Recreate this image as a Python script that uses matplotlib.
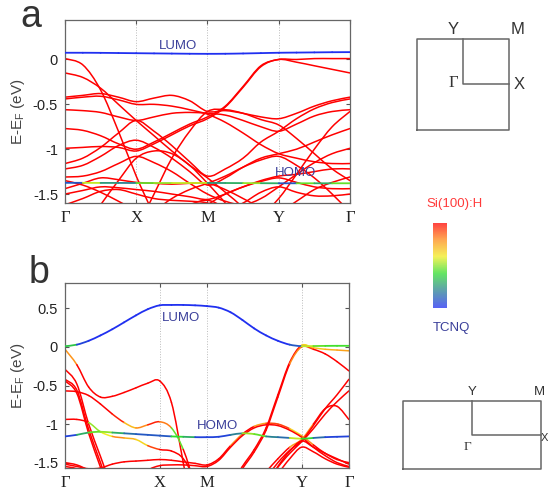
import matplotlib
matplotlib.use('Agg')
import matplotlib.pyplot as plt
import numpy as np
from matplotlib.path import Path
from matplotlib.patches import PathPatch
from matplotlib.colors import LinearSegmentedColormap

plt.rcParams['font.family'] = ['Liberation Sans', 'DejaVu Sans']
plt.rcParams['axes.unicode_minus'] = False

H = -2.3  # below the window

# ---------------- panel a: square cell ----------------
k_a = [0, 0.25, 0.5, 0.75, 1, 1.25, 1.5, 1.75, 2, 2.25, 2.5, 2.75, 3, 3.25, 3.5, 3.75, 4]
ticks_a = [0, 1, 2, 3, 4]
sym_labels = ['Γ', 'X', 'M', 'Y', 'Γ']

lumo_a = [0.075, 0.075, 0.074, 0.072, 0.070, 0.068, 0.066, 0.064, 0.063, 0.064, 0.067, 0.071, 0.075, 0.077, 0.079, 0.081, 0.082]
homo_a = [-1.375, -1.375, -1.376, -1.376, -1.377, -1.377, -1.377, -1.377, -1.376, -1.377, -1.378, -1.379, -1.380, -1.380, -1.380, -1.380, -1.380]
homo_a_w = [0.1, 0.55, 0.25, 0.2, 0.45, 0.5, 0.55, 0.55, 0.25, 0.3, 0.5, 0.3, 0.1, 0.45, 0.3, 0.45]

red_a = [
    [0.01, -0.06, -0.34, -0.80, -1.30, -1.75, H, H, H, H, H, H, H, H, H, H, H],
    [-0.15, -0.20, -0.32, -0.50, -0.68, -0.85, -1.02, -1.18, -1.32, -1.48, -1.65, -1.85, H, H, H, H, H],
    [-0.42, -0.40, -0.38, -0.42, -0.47, -0.43, -0.40, -0.46, -0.58, -0.57, -0.60, -0.64, -0.66, -0.60, -0.52, -0.46, -0.42],
    [-0.44, -0.42, -0.41, -0.45, -0.50, -0.50, -0.52, -0.56, -0.61, -0.70, -0.82, -0.95, -1.05, -1.10, -1.14, -1.16, -1.16],
    [-0.56, -0.57, -0.59, -0.64, -0.68, -0.64, -0.60, -0.59, -0.60, -0.62, -0.68, -0.75, -0.80, -0.72, -0.63, -0.58, -0.56],
    [-0.77, -0.79, -0.85, -0.94, -1.00, -0.92, -0.82, -0.72, -0.64, -0.52, -0.30, -0.07, 0.00, 0.00, 0.01, 0.01, 0.01],
    [-0.99, -0.98, -0.97, -0.98, -1.02, -0.94, -0.84, -0.74, -0.66, -0.53, -0.31, -0.08, 0.00, -0.03, -0.07, -0.11, -0.15],
    [-1.16, -1.10, -0.98, -0.82, -0.68, -0.80, -0.96, -1.14, -1.30, -1.22, -1.10, -0.92, -0.80, -0.66, -0.55, -0.48, -0.44],
    [-1.22, -1.18, -1.08, -0.96, -0.90, -0.98, -1.10, -1.25, -1.40, -1.32, -1.20, -1.10, -1.05, -1.00, -0.92, -0.84, -0.77],
    [-1.31, -1.30, -1.25, -1.16, -1.08, -1.15, -1.25, -1.38, -1.50, -1.58, -1.62, -1.55, -1.42, -1.28, -1.15, -1.05, -0.99],
    [-1.35, -1.40, -1.48, -1.58, -1.68, -1.75, -1.80, -1.75, -1.62, -1.50, -1.42, -1.35, -1.30, -1.28, -1.25, -1.22, -1.22],
    [-1.44, -1.38, -1.32, -1.34, -1.37, -1.38, -1.39, -1.38, -1.38, -1.45, -1.55, -1.65, -1.70, -1.58, -1.45, -1.37, -1.31],
    [-1.50, -1.46, -1.42, -1.43, -1.45, -1.47, -1.50, -1.53, -1.56, -1.50, -1.42, -1.36, -1.32, -1.37, -1.42, -1.44, -1.44],
    [-1.62, -1.55, -1.47, -1.45, -1.50, -1.55, -1.57, -1.58, -1.60, -1.68, -1.60, -1.48, -1.42, -1.48, -1.52, -1.52, -1.50],
    [H, -1.90, -1.62, -1.35, -1.10, -1.02, -1.05, -1.18, -1.38, -1.60, -1.85, H, H, H, H, H, H],
    [H, H, H, H, -1.90, -1.70, -1.55, -1.45, -1.38, -1.30, -1.20, -1.12, -1.08, -1.18, -1.32, -1.50, -1.70],
    [H, H, H, H, H, -1.90, -1.72, -1.62, -1.57, -1.66, -1.82, H, H, H, H, H, H],
    [H, H, H, H, H, H, H, H, H, H, -1.95, -1.75, -1.55, -1.28, -1.00, -0.75, -0.58],
    [H, H, H, H, -1.90, -1.50, -1.10, -0.80, -0.58, -0.56, -0.60, -0.67, -0.73, -0.88, -1.05, -1.22, -1.35],
]

# ---------------- panel b: rectangular cell ----------------
k_b = [0, 0.25, 0.5, 0.75, 1, 1.25, 1.5, 1.75, 2, 2.25, 2.5, 2.75, 3, 3.25, 3.5, 3.75,
       4, 4.25, 4.5, 4.75, 5, 5.25, 5.5, 5.75, 6]
ticks_b = [0, 2, 3, 5, 6]

lumo_b = [0.01, 0.03, 0.08, 0.15, 0.23, 0.32, 0.41, 0.49, 0.54, 0.545, 0.545, 0.54, 0.53,
          0.51, 0.45, 0.35, 0.24, 0.15, 0.08, 0.03, 0.01, 0.012, 0.014, 0.015, 0.015]
lumo_b_w = [0.35, 0.05, 0, 0, 0, 0, 0, 0, 0, 0, 0, 0, 0, 0, 0, 0, 0, 0, 0, 0.1, 0.55, 0.45, 0.42, 0.42]
homo_b = [-1.16, -1.14, -1.11, -1.10, -1.11, -1.12, -1.13, -1.14, -1.15, -1.16, -1.165, -1.17, -1.17,
          -1.165, -1.14, -1.12, -1.13, -1.16, -1.17, -1.18, -1.19, -1.18, -1.17, -1.165, -1.16]
homo_b_w = [0.05, 0.3, 0.45, 0.5, 0.3, 0.15, 0.1, 0.1, 0.1, 0.4, 0.3, 0.05,
            0.05, 0.05, 0.2, 0.5, 0.45, 0.2, 0.15, 0.55, 0.4, 0.15, 0.05, 0.05]

bands_b = [
    [-0.03, -0.23, -0.52, -0.65, -0.64, -0.59, -0.53, -0.47, -0.44, -0.72, -1.50, H, H, H, H, H, H, H, H, H, H, H, H, H, H],
    [-0.29, -0.48, -1.00, -1.42, -1.85, H, H, H, H, H, H, H, H, H, H, H, H, H, H, H, H, H, H, H, H],
    [-0.42, -0.56, -1.07, -1.50, -1.95, H, H, H, H, H, H, H, H, H, H, H, H, H, H, H, H, H, H, H, H],
    [-0.44, -0.60, -1.12, -1.56, -2.00, H, H, H, H, H, H, H, H, H, H, H, H, H, H, H, H, H, H, H, H],
    [-0.57, -0.58, -0.63, -0.74, -0.87, -0.98, -1.05, -1.01, -0.97, -1.05, -1.33, -1.80, H, H, H, H, H, H, H, H, H, H, H, H, H],
    [-0.94, -0.94, -0.98, -1.10, -1.16, -1.18, -1.20, -1.28, -1.33, -1.35, -1.45, -1.75, H, H, H, H, H, H, H, H, H, H, H, H, H],
    [-1.52, -1.55, -1.58, -1.57, -1.52, -1.49, -1.48, -1.47, -1.46, -1.47, -1.49, -1.51, -1.53,
     -1.45, -1.28, -1.13, -1.03, -0.99, -1.00, -1.06, -1.15, -1.27, -1.38, -1.46, -1.50],
    [H, H, H, H, H, -2.00, -1.75, -1.60, -1.54, -1.53, -1.53, -1.54, -1.55,
     -1.47, -1.30, -1.15, -1.05, -1.01, -1.02, -1.08, -1.17, -1.30, -1.41, -1.50, -1.55],
    [H, H, H, H, H, H, H, H, H, H, H, H, H, -2.00, -1.80, -1.55, -1.33, -1.05, -0.62, -0.20, 0.02, -0.01, -0.03, -0.04, -0.05],
    [H, H, H, H, H, H, H, H, H, H, H, H, H, -2.05, -1.83, -1.58, -1.36, -1.08, -0.65, -0.22, 0.00, -0.03, -0.09, -0.19, -0.31],
    [H, H, H, H, H, H, H, H, H, H, H, H, H, H, H, -2.00, -1.80, -1.62, -1.45, -1.30, -1.20, -1.00, -0.80, -0.77, -0.94],
    [H, H, H, H, H, H, H, H, H, H, H, H, H, H, H, H, -1.90, -1.70, -1.50, -1.34, -1.22, -1.02, -0.80, -0.62, -0.42],
    [H, H, H, H, H, H, H, H, H, H, H, H, H, H, H, H, -2.00, -1.78, -1.56, -1.38, -1.23, -1.06, -0.87, -0.71, -0.57],
    [H, H, H, H, H, H, H, H, H, H, H, H, H, H, H, H, -2.00, -1.80, -1.55, -1.35, -1.22, -1.30, -1.38, -1.45, -1.52],
    [H, H, H, H, H, H, H, H, H, H, H, H, H, H, H, H, H, -1.90, -1.65, -1.45, -1.30, -1.36, -1.45, -1.52, -1.56],
    [-1.50, -1.53, -1.60, -1.70, -1.85, H, H, H, H, H, H, H, H, H, H, H, H, H, H, H, H, H, H, H, H],
    [-1.55, -1.58, -1.66, -1.78, H, H, H, H, H, H, H, H, H, H, H, H, H, H, H, H, H, H, H, H, H],
]
# projected weight per segment (1 = Si(100):H, 0 = TCNQ); None = pure Si
weights_b = [
    [0.78, 1.0] + [1.0] * 22,
    None, None, None,
    [1, 1, 1, 1, 0.95, 0.7, 0.8, 0.95, 0.82, 0.45] + [1.0] * 14,
    [1, 1, 0.5, 0.6, 0.8, 0.72, 0.65, 0.9] + [1.0] * 16,
    [1.0] * 14 + [0.8, 1, 0.75, 0.9, 0.9, 0.65, 0.8, 1, 1, 1],
    None,
    [1.0] * 20 + [0.65, 0.68, 0.72, 0.75],
    [1.0] * 19 + [0.8, 0.9, 1, 1, 1],
    [1.0] * 19 + [0.75, 0.8, 1, 1, 1],
    None, None, None, None, None, None,
]

cmap = LinearSegmentedColormap.from_list(
    'proj', [(0, '#2030f0'), (0.22, '#2a8a8a'), (0.4, '#30dd30'),
             (0.6, '#f2ee20'), (0.8, '#ff8a18'), (1, '#ff0000')])


def seg_verts(k, e, i):
    n = len(k)
    p0 = np.array([k[max(i - 1, 0)], e[max(i - 1, 0)]])
    p1 = np.array([k[i], e[i]])
    p2 = np.array([k[i + 1], e[i + 1]])
    p3 = np.array([k[min(i + 2, n - 1)], e[min(i + 2, n - 1)]])
    c1 = p1 + (p2 - p0) / 6
    c2 = p2 - (p3 - p1) / 6
    return [p1, c1, c2, p2]


def draw_band(ax, k, e, w=None, lw=1.1, z=2):
    n = len(k)
    if w is None:
        verts, codes = [], []
        for i in range(n - 1):
            v = seg_verts(k, e, i)
            if i == 0:
                verts.append(v[0]); codes.append(Path.MOVETO)
            verts += v[1:]
            codes += [Path.CURVE4] * 3
        ax.add_patch(PathPatch(Path(verts, codes), fill=False, ec=cmap(1.0), lw=lw,
                               capstyle='round', joinstyle='round', zorder=z))
    else:
        for i in range(n - 1):
            p = Path(seg_verts(k, e, i), [Path.MOVETO] + [Path.CURVE4] * 3)
            ax.add_patch(PathPatch(p, fill=False, ec=cmap(float(w[i])), lw=lw,
                                   capstyle='round', zorder=z))


def style_axes(ax, ticks, ylim, yticks, ylabels):
    ax.set_xlim(ticks[0], ticks[-1])
    ax.set_ylim(*ylim)
    ax.set_xticks(ticks)
    ax.set_xticklabels(sym_labels, family=['Liberation Serif', 'DejaVu Serif'], fontsize=12)
    ax.set_yticks(yticks)
    ax.set_yticklabels(ylabels, fontsize=10.5)
    for t in ticks[1:-1]:
        ax.axvline(t, color='#bbbbbb', lw=0.7, ls=':', zorder=1)
    ax.tick_params(direction='in', length=3, width=0.8, top=True, right=True,
                   colors='#555555', labelcolor='#222222', pad=5)
    for s in ax.spines.values():
        s.set_color('#666666')
        s.set_linewidth(0.9)
    ax.set_ylabel('E-E$_\\mathregular{F}$ (eV)', fontsize=11, color='#444444', labelpad=4)


fig = plt.figure(figsize=(5.48, 4.93), dpi=100)
fig.patch.set_facecolor('white')

# panel a
ax_a = fig.add_axes([0.1186, 0.5882, 0.520, 0.3712])
for band in red_a:
    draw_band(ax_a, k_a, band)
draw_band(ax_a, k_a, homo_a, homo_a_w, lw=1.3, z=3)
draw_band(ax_a, k_a, lumo_a, [0.0] * 16, lw=1.3, z=3)
style_axes(ax_a, ticks_a, (-1.6, 0.44), [0, -0.5, -1, -1.5], ['0', '-0.5', '-1', '-1.5'])
ax_a.text(1.59, 0.15, 'LUMO', color='#3a3f9a', fontsize=9.5, ha='center', va='center')
ax_a.text(3.23, -1.27, 'HOMO', color='#3a3f9a', fontsize=9.5, ha='center', va='center', zorder=4)

# panel b
ax_b = fig.add_axes([0.1186, 0.0507, 0.518, 0.3753])
for band, w in zip(bands_b, weights_b):
    draw_band(ax_b, k_b, band, w)
draw_band(ax_b, k_b, homo_b, homo_b_w, lw=1.3, z=3)
draw_band(ax_b, k_b, lumo_b, lumo_b_w, lw=1.3, z=3)
style_axes(ax_b, ticks_b, (-1.57, 0.83), [0.5, 0, -0.5, -1, -1.5], ['0.5', '0', '-0.5', '-1', '-1.5'])
ax_b.text(2.46, 0.37, 'LUMO', color='#3a3f9a', fontsize=9.5, ha='center', va='center')
ax_b.text(3.22, -1.03, 'HOMO', color='#3a3f9a', fontsize=9.5, ha='center', va='center')

fig.text(31 / 548, 1 - 17 / 493, 'a', fontsize=27, color='#333333', ha='center', va='center')
fig.text(39 / 548, 1 - 273 / 493, 'b', fontsize=27, color='#333333', ha='center', va='center')

# Brillouin zones: half-widths of the cell outline
bz_sq = fig.add_axes([0.7604, 0.7363, 0.169, 0.1852])
bz_rect = fig.add_axes([0.7360, 0.0481, 0.2518, 0.1385])
serif = ['Liberation Serif', 'DejaVu Serif']
for ax, hw, hh in [(bz_sq, 1.0, 1.0), (bz_rect, 1.0, 0.5)]:
    ax.set_xlim(-hw, hw)
    ax.set_ylim(-hh, hh)
    ax.axis('off')
    ax.plot([-hw, hw, hw, -hw, -hw], [-hh, -hh, hh, hh, -hh], color='#666666', lw=1.1, clip_on=False)
    ax.plot([0, 0, hw], [hh, 0, 0], color='#666666', lw=1.1, clip_on=False)

bz_sq.text(-0.22, 1.03, 'Y', fontsize=12, color='#333333', ha='center', va='bottom')
bz_sq.text(1.17, 1.03, 'M', fontsize=12, color='#333333', ha='center', va='bottom')
bz_sq.text(1.1, 0, 'X', fontsize=12, color='#333333', ha='left', va='center')
bz_sq.text(-0.1, 0.02, 'Γ', fontsize=12, family=serif, color='#333333', ha='right', va='center')

bz_rect.text(0, 0.55, 'Y', fontsize=9.5, color='#333333', ha='center', va='bottom')
bz_rect.text(0.98, 0.55, 'M', fontsize=9.5, color='#333333', ha='center', va='bottom')
bz_rect.text(1.045, -0.04, 'X', fontsize=8, color='#333333', ha='center', va='center')
bz_rect.text(-0.07, -0.08, 'Γ', fontsize=9.5, family=serif, color='#333333', ha='center', va='top')

# colour bar
cb = fig.add_axes([0.7907, 0.3753, 0.0255, 0.173])
cb.imshow(np.linspace(1, 0, 100).reshape(-1, 1), aspect='auto', cmap=cmap, alpha=0.75,
          extent=[0, 1, 0, 1])
cb.axis('off')
fig.text(455 / 548, 1 - 204 / 493, 'Si(100):H', color='#ff3b3b', fontsize=9.5, ha='center', va='center')
fig.text(451 / 548, 1 - 328 / 493, 'TCNQ', color='#3a3f9a', fontsize=9.5, ha='center', va='center')

fig.savefig('out.png', dpi=100)
